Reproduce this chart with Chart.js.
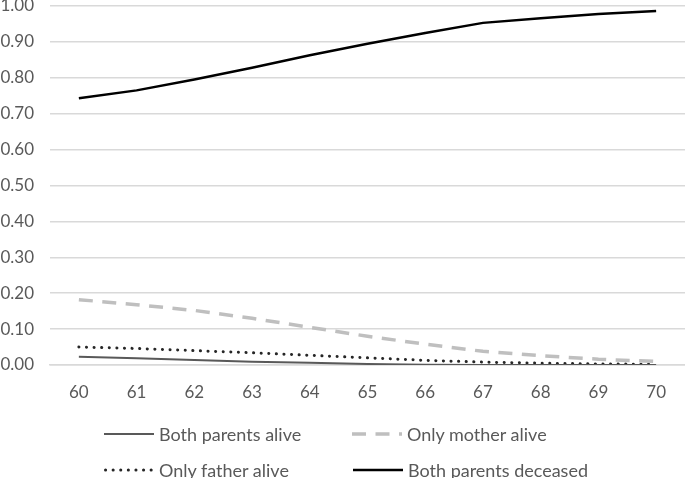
<!DOCTYPE html>
<html>
<head>
<meta charset="utf-8">
<script src="https://cdn.jsdelivr.net/npm/chart.js@4.4.1/dist/chart.umd.min.js"></script>
<style>
  html, body { margin: 0; padding: 0; background: #fff; overflow: hidden; }
  #wrap { position: relative; width: 685px; height: 478px; }
  canvas { position: absolute; left: 0; top: 0; }
  .leg { position: absolute; font-family: Lato, sans-serif; font-size: 18px; color: #595959; white-space: nowrap; line-height: 20px; }
  .leg svg { position: absolute; left: 0; top: 0; }
  .leg span { position: absolute; top: 0; }
</style>
</head>
<body>
<div id="wrap">
  <canvas id="c" width="685" height="478"></canvas>
  <div id="legend"></div>
</div>
<script>
const categories = ["60","61","62","63","64","65","66","67","68","69","70"];
const seriesNames = ["Both parents alive","Only mother alive","Only father alive","Both parents deceased"];
const bothAlive    = [0.023,0.019,0.014,0.009,0.006,0.003,0.001,0.000,0.000,0.000,0.000];
const onlyMother   = [0.182,0.168,0.152,0.130,0.105,0.080,0.058,0.038,0.026,0.016,0.010];
const onlyFather   = [0.050,0.046,0.040,0.034,0.027,0.020,0.013,0.008,0.005,0.003,0.002];
const bothDeceased = [0.743,0.765,0.795,0.828,0.863,0.895,0.925,0.953,0.966,0.978,0.986];

const styles = [
  { color: "#595959", width: 2,   dash: [],      cap: "butt" },
  { color: "#BFBFBF", width: 3.5, dash: [14, 9.5], cap: "butt" },
  { color: "#262626", width: 3,   dash: [0.1, 7.5], cap: "round" },
  { color: "#000000", width: 2.5, dash: [],      cap: "butt" }
];
const seriesData = [bothAlive, onlyMother, onlyFather, bothDeceased];

const datasets = seriesData.map((d, i) => ({
  label: seriesNames[i],
  data: d,
  borderColor: styles[i].color,
  borderWidth: styles[i].width,
  borderDash: styles[i].dash,
  borderCapStyle: styles[i].cap,
  pointRadius: 0,
  tension: 0,
  fill: false
}));
const font = { family: "Lato", size: 17 };

new Chart(document.getElementById("c"), {
  type: "line",
  data: { labels: categories, datasets },
  options: {
    responsive: false,
    animation: false,
    layout: { padding: { top: 0, left: 0, right: 0, bottom: 0 } },
    plugins: { legend: { display: false }, tooltip: { enabled: false } },
    scales: {
      x: {
        offset: true,
        grid: { display: false, drawTicks: false },
        border: { display: true, color: "#D9D9D9", width: 1.5 },
        ticks: { color: "#595959", font, padding: 17, maxRotation: 0 },
        afterFit(s) { s.height = 113; s.paddingLeft = 0; s.paddingRight = 0; }
      },
      y: {
        min: 0, max: 1,
        grid: { color: "#D9D9D9", lineWidth: 1.5, drawTicks: false },
        border: { display: false },
        ticks: { stepSize: 0.1, color: "#595959", font, padding: 16,
                 callback: v => Number(v).toFixed(2) },
        afterFit(s) { s.width = 50; s.paddingTop = 6; s.paddingBottom = 0; }
      }
    }
  }
});

// HTML legend
const legPos = [
  { x: 104, y: 424, tx: 55 }, { x: 352, y: 424, tx: 55 },
  { x: 104, y: 460, tx: 55 }, { x: 353, y: 460, tx: 55 }
];
const legend = document.getElementById("legend");
seriesNames.forEach((name, i) => {
  const st = styles[i];
  const div = document.createElement("div");
  div.className = "leg";
  div.style.left = legPos[i].x + "px";
  div.style.top = legPos[i].y + "px";
  div.style.width = "260px";
  div.style.height = "20px";
  const dash = st.dash.length ? `stroke-dasharray="${st.dash.join(' ')}"` : "";
  div.innerHTML = `<svg width="52" height="20"><line x1="${st.cap==='round'?1.5:0}" y1="10" x2="50" y2="10" stroke="${st.color}" stroke-width="${st.width}" ${dash} stroke-linecap="${st.cap}"/></svg><span style="left:${legPos[i].tx}px">${name}</span>`;
  legend.appendChild(div);
});
</script>
</body>
</html>
